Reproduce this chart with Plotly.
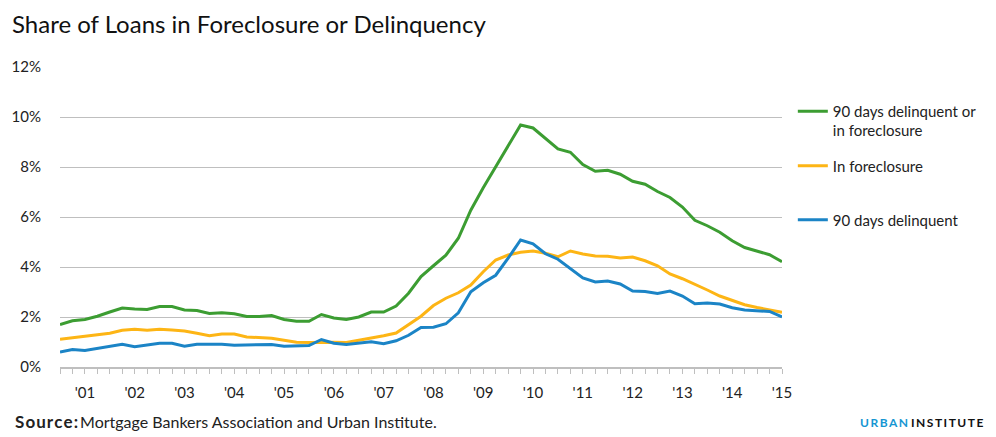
import plotly.graph_objects as go

# Quarterly data, 2000Q3 .. 2015Q1 (59 quarters)
quarters = [f"{2000 + (q + 2) // 4}Q{(q + 2) % 4 + 1}" for q in range(59)]

delinquent_or_foreclosure = [
    1.70, 1.85, 1.90, 2.03, 2.20, 2.36, 2.32, 2.30, 2.42, 2.42,
    2.28, 2.26, 2.14, 2.17, 2.13, 2.02, 2.02, 2.06, 1.90, 1.83,
    1.83, 2.10, 1.96, 1.90, 2.00, 2.20, 2.20, 2.44, 2.95, 3.62,
    4.05, 4.47, 5.15, 6.27, 7.17, 8.00, 8.85, 9.68, 9.56, 9.12,
    8.72, 8.59, 8.10, 7.83, 7.87, 7.71, 7.43, 7.31, 7.02, 6.78,
    6.40, 5.87, 5.65, 5.39, 5.05, 4.78, 4.62, 4.49, 4.21,
]
in_foreclosure = [
    1.11, 1.17, 1.23, 1.31, 1.35, 1.47, 1.51, 1.47, 1.51, 1.48,
    1.44, 1.35, 1.25, 1.32, 1.32, 1.20, 1.17, 1.15, 1.07, 0.99,
    0.98, 0.99, 0.99, 0.98, 1.06, 1.16, 1.25, 1.36, 1.69, 2.03,
    2.46, 2.75, 2.97, 3.28, 3.81, 4.28, 4.48, 4.59, 4.64, 4.55,
    4.41, 4.64, 4.52, 4.44, 4.43, 4.36, 4.40, 4.25, 4.05, 3.72,
    3.53, 3.32, 3.08, 2.84, 2.65, 2.49, 2.38, 2.28, 2.19,
]
days90_delinquent = [
    0.60, 0.70, 0.66, 0.74, 0.83, 0.91, 0.81, 0.89, 0.95, 0.95,
    0.83, 0.91, 0.91, 0.91, 0.87, 0.87, 0.87, 0.90, 0.83, 0.83,
    0.86, 1.10, 0.95, 0.90, 0.95, 1.01, 0.93, 1.05, 1.27, 1.58,
    1.59, 1.73, 2.17, 3.01, 3.37, 3.67, 4.35, 5.08, 4.93, 4.53,
    4.31, 3.95, 3.56, 3.40, 3.44, 3.32, 3.04, 3.02, 2.94, 3.04,
    2.84, 2.53, 2.56, 2.52, 2.37, 2.28, 2.25, 2.22, 2.00,
]

series_names = ["90 days delinquent or<br>in foreclosure", "In foreclosure", "90 days delinquent"]
series_colors = ["#3c9d32", "#fdb515", "#1b84c6"]
y_ticks = [0, 2, 4, 6, 8, 10, 12]

idx = list(range(len(quarters)))
tick_text = [("'" + q[2:4]) if q.endswith("Q1") else "" for q in quarters]

fig = go.Figure()
for name, vals, col, lg in zip(series_names,
                               [delinquent_or_foreclosure, in_foreclosure, days90_delinquent],
                               series_colors, ["legend", "legend2", "legend3"]):
    fig.add_trace(go.Scatter(x=idx, y=vals, mode="lines", name=name,
                             line=dict(color=col, width=3), legend=lg,
                             hoverinfo="skip"))

FONT = "Lato, 'Open Sans', sans-serif"
leg_common = dict(xref="paper", yref="paper", xanchor="left", yanchor="top",
                  font=dict(family=FONT, size=15, color="#222"),
                  bgcolor="rgba(0,0,0,0)", valign="top")

fig.update_layout(
    width=996, height=437,
    margin=dict(l=53, r=214, t=67, b=70),
    paper_bgcolor="white", plot_bgcolor="white",
    font=dict(family=FONT, color="#222"),
    title=dict(text="Share of Loans in Foreclosure or Delinquency",
               x=12 / 996, xref="container", xanchor="left",
               y=1 - 25 / 437, yref="container", yanchor="middle",
               font=dict(family=FONT, size=24, color="#111")),
    legend=dict(x=1.015, y=0.907, **leg_common),
    legend2=dict(x=1.015, y=0.725, **leg_common),
    legend3=dict(x=1.015, y=0.545, **leg_common),
    xaxis=dict(range=[0, len(quarters) - 1], tickmode="array", tickvals=idx,
               ticktext=tick_text, ticks="outside", ticklen=5, tickcolor="#bfbfbf",
               showline=True, linecolor="#bfbfbf", linewidth=1.5, showgrid=False,
               zeroline=False, tickfont=dict(family=FONT, size=15, color="#222"),
               ticklabelstandoff=6, fixedrange=True),
    yaxis=dict(range=[0, 12], tickvals=y_ticks, ticktext=[f"{v}%" for v in y_ticks],
               showgrid=True, gridcolor="#bfbfbf", gridwidth=1.2, zeroline=False,
               showline=False, ticks="", tickfont=dict(family=FONT, size=15, color="#222"),
               ticklabelstandoff=18, fixedrange=True),
    showlegend=True,
)

hs = "\u200a"
fig.add_annotation(text="<b><span style='font-size:17px'>" + hs.join("Source:") + "</span></b>"
                        "\u2009Mortgage Bankers Association and Urban Institute.",
                   xref="paper", yref="paper", x=-47 / 729, y=-(422 - 367.3) / 300,
                   xanchor="left", yanchor="middle", showarrow=False,
                   font=dict(family=FONT, size=16, color="#222"))
ts = "\u2009"
fig.add_annotation(text="<b><span style='color:#1696d2'>" + ts.join("URBAN") + "</span> "
                        + ts.join("INSTITUTE") + "</b>",
                   xref="paper", yref="paper", x=(987 - 53) / 729, y=-(423 - 367.3) / 300,
                   xanchor="right", yanchor="middle", showarrow=False,
                   font=dict(family=FONT, size=12, color="#111"))

fig.write_html("out.html", config={"displayModeBar": False},
               post_script="document.body.style.margin='0';document.body.style.overflow='hidden';")
